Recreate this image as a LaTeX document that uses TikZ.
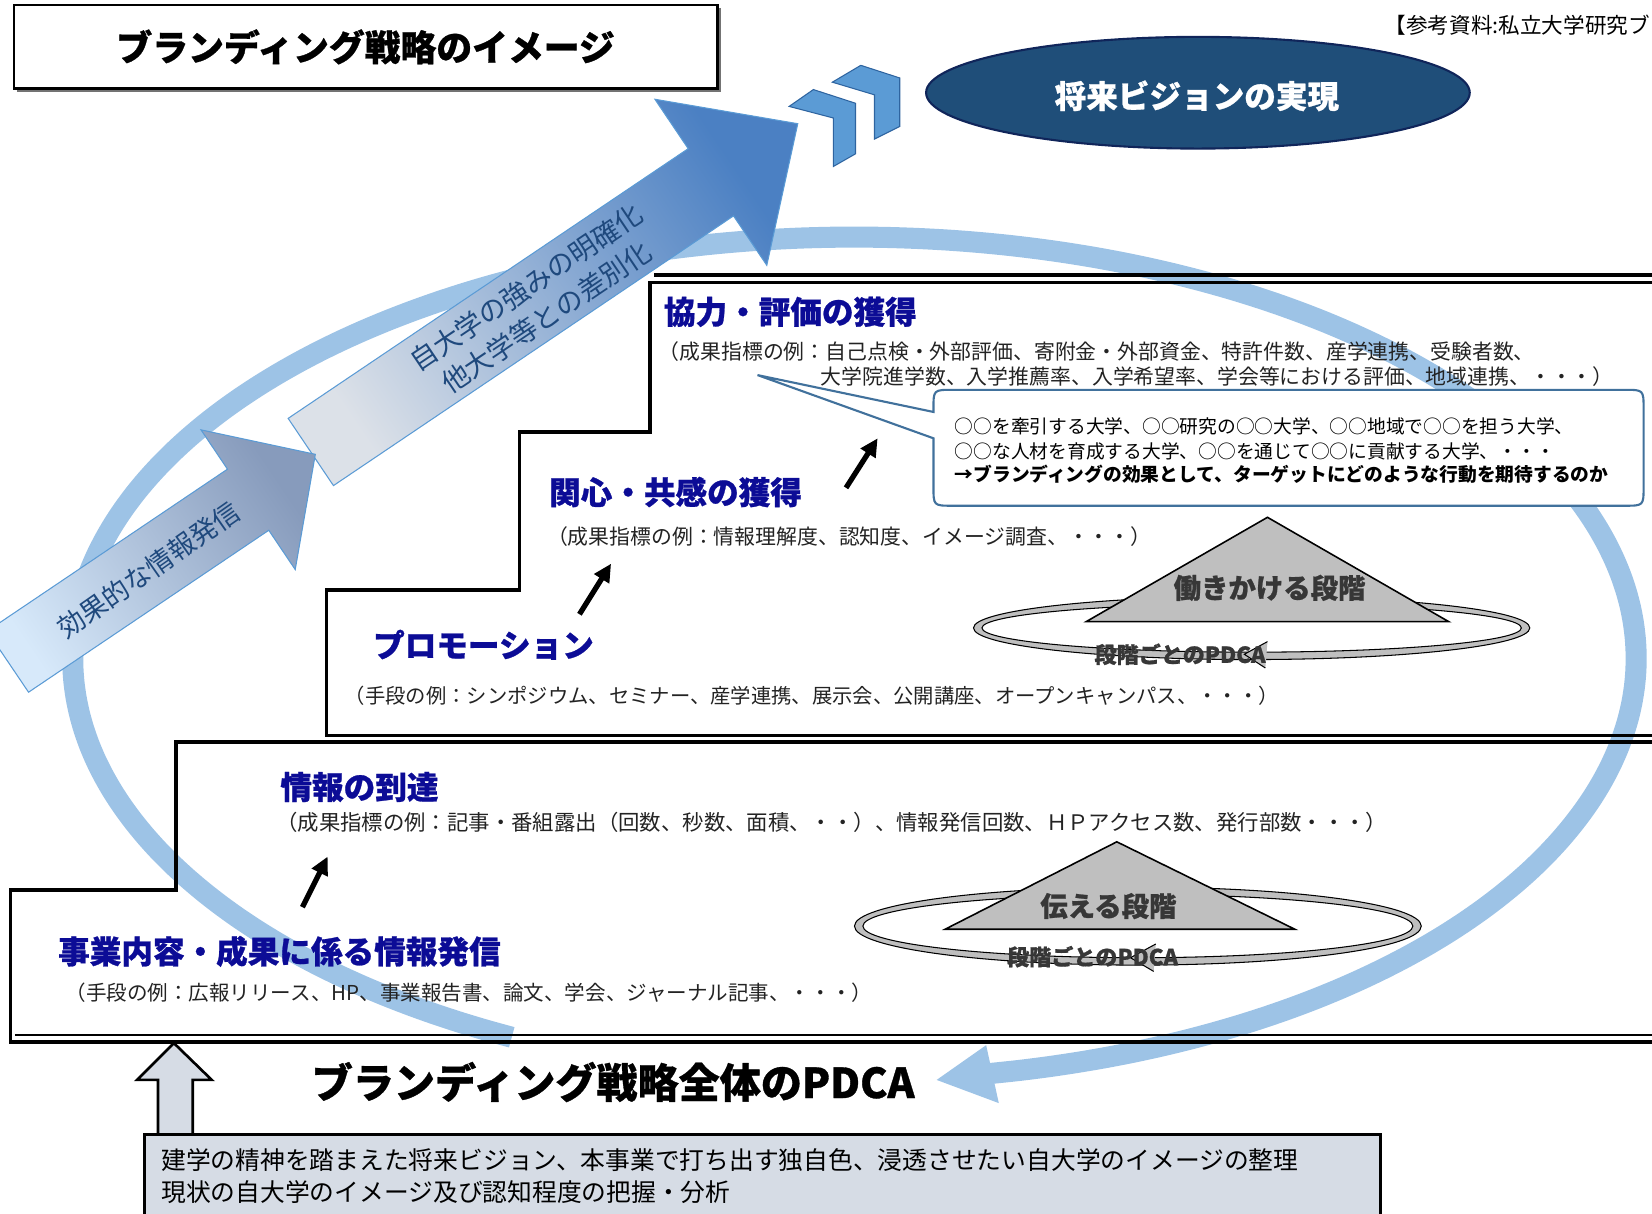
\documentclass[tikz,border=0pt]{standalone}
\usepackage{fontspec}
\setmainfont{Noto Sans CJK JP}
\newfontfamily\heavyfont{Noto Sans CJK JP}[BoldFeatures={FakeBold=0.8}]
\usetikzlibrary{arrows.meta}
\definecolor{ringblue}{RGB}{157,195,230}
\definecolor{navyhead}{RGB}{12,12,150}
\definecolor{ellfill}{RGB}{31,78,121}
\definecolor{elldraw}{RGB}{16,37,90}
\definecolor{chevfill}{RGB}{91,155,213}
\definecolor{chevdraw}{RGB}{46,100,160}
\definecolor{boxgray}{RGB}{214,220,229}
\definecolor{trigray}{RGB}{191,191,191}
\definecolor{stagetext}{RGB}{55,55,55}
\definecolor{bodytext}{RGB}{35,35,35}
\definecolor{callblue}{RGB}{65,113,156}
\definecolor{arrowtext}{RGB}{31,73,125}
\definecolor{arrowedge}{RGB}{91,155,213}
\definecolor{arrAtail}{RGB}{215,233,250}
\definecolor{arrAhead}{RGB}{135,155,188}
\definecolor{arrBtail}{RGB}{220,225,232}
\definecolor{arrBhead}{RGB}{75,128,195}
\begin{document}
\begin{tikzpicture}[x=1pt,y=-1pt,
  heading/.style={inner sep=0pt, anchor=west, text=navyhead, font=\heavyfont\bfseries\fontsize{30}{36}\selectfont},
  body/.style={inner sep=0pt, anchor=west, text=bodytext, font=\fontsize{19.8}{23}\selectfont},
  stepline/.style={line width=3.5pt, line join=miter, line cap=rect},
  stagelabel/.style={inner sep=0pt, text=stagetext, font=\heavyfont\bfseries\fontsize{26}{30}\selectfont},
  pdcalabel/.style={inner sep=0pt, text=stagetext, font=\heavyfont\bfseries\fontsize{21}{25}\selectfont},
  tri/.style={fill=trigray, draw=black, line width=1.5pt, line join=miter},
  pdcaring/.style={fill=trigray, draw=black, line width=1pt, even odd rule},
  smallarrow/.style={line width=5pt, -{Triangle[length=17pt,width=16pt]}},
  chevron/.style={fill=chevfill, draw=chevdraw, line width=1pt, line join=miter},
  bigarrow/.style={draw=arrowedge, line width=1pt, line join=miter},
  arrowlabel/.style={inner sep=0pt, text=arrowtext, align=center},
  callouttext/.style={inner sep=0pt, anchor=west, text=black, font=\fontsize{17.8}{21}\selectfont}
]
\useasboundingbox (0,0) rectangle (1568,1152);
\clip (0,0) rectangle (1568,1152);

% big PDCA ring
\draw[ringblue, line width=20pt] plot[smooth, domain=116:440, samples=150] ({811+742*cos(\x)},{625+400*sin(\x)});
\fill[ringblue] (936,992) -- (889,1025) -- (948,1047) -- cycle;

% step outlines
\draw[stepline] (1580,268) -- (617,268) -- (617,410) -- (493,410) -- (493,560) -- (310,560) -- (310,698) -- (1580,698);
\draw[line width=3pt] (621,261) -- (1580,261);
\draw[stepline] (1580,704) -- (167,704) -- (167,845) -- (10,845) -- (10,989) -- (1580,989);
\draw[line width=2pt] (14,982) -- (1580,982);

% stage PDCA rings and triangles
\path[pdcaring] (1188,596) ellipse [x radius=264, y radius=30] (1188,596) ellipse [x radius=256, y radius=23];
\filldraw[fill=trigray, draw=black, line width=1pt] (1203,609) -- (1181,621) -- (1201,634);
\draw[tri] (1203,491) -- (1375,590) -- (1031,590) -- cycle;
\node[stagelabel] (act) at (1205,558) {働きかける段階};
\node[pdcalabel] (pdca1) at (1120,621) {段階ごとのPDCA};

\path[pdcaring] (1080,879) ellipse [x radius=269, y radius=37] (1080,879) ellipse [x radius=261, y radius=30];
\filldraw[fill=trigray, draw=black, line width=1pt] (1097,896) -- (1073,909) -- (1095,922);
\draw[tri] (1060,799) -- (1229,882) -- (897,882) -- cycle;
\node[stagelabel] (tell) at (1052,860) {伝える段階};
\node[pdcalabel] (pdca2) at (1037,908) {段階ごとのPDCA};

% headings and examples
\node[heading] (h1) at (630,296) {協力・評価の獲得};
\node[body] (t1a) at (625,334) {（成果指標の例：自己点検・外部評価、寄附金・外部資金、特許件数、産学連携、受験者数、};
\node[body] (t1b) at (779,357) {大学院進学数、入学推薦率、入学希望率、学会等における評価、地域連携、・・・）};
\node[heading] (h2) at (521,467) {関心・共感の獲得};
\node[body] (t2) at (519,509) {（成果指標の例：情報理解度、認知度、イメージ調査、・・・）};
\node[heading] (h3) at (354,612) {プロモーション};
\node[body, font=\fontsize{19.3}{23}\selectfont] (t3) at (327,660) {（手段の例：シンポジウム、セミナー、産学連携、展示会、公開講座、オープンキャンパス、・・・）};
\node[heading] (h4) at (266,747) {情報の到達};
\node[body, font=\fontsize{20.3}{24}\selectfont] (t4) at (262,781) {（成果指標の例：記事・番組露出（回数、秒数、面積、・・）、情報発信回数、ＨＰアクセス数、発行部数・・・）};
\node[heading] (h5) at (55,903) {事業内容・成果に係る情報発信};
\node[body, font=\fontsize{19.5}{23}\selectfont] (t5) at (62,942) {（手段の例：広報リリース、HP、事業報告書、論文、学会、ジャーナル記事、・・・）};

% callout
\filldraw[fill=white, draw=callblue, line width=2pt, line join=miter]
  (904,370) .. controls (886,370) .. (886,388) -- (886,391) -- (719,356) -- (886,416) -- (886,462)
  .. controls (886,480) .. (904,480) -- (1542,480) .. controls (1560,480) .. (1560,462)
  -- (1560,388) .. controls (1560,370) .. (1542,370) -- cycle;
\node[callouttext] (c1) at (906,405) {○○を牽引する大学、○○研究の○○大学、○○地域で○○を担う大学、};
\node[callouttext] (c2) at (906,428) {○○な人材を育成する大学、○○を通じて○○に貢献する大学、・・・};
\node[callouttext, font=\bfseries\fontsize{17.8}{21}\selectfont] (c3) at (906,450) {→ブランディングの効果として、ターゲットにどのような行動を期待するのか};

% small arrows
\coordinate (a1s) at (803,463); \coordinate (a1e) at (833,416);
\coordinate (a2s) at (550,583); \coordinate (a2e) at (580,535);
\coordinate (a3s) at (287,861); \coordinate (a3e) at (311,813);
\draw[smallarrow] (a1s) -- (a1e);
\draw[smallarrow] (a2s) -- (a2e);
\draw[smallarrow] (a3s) -- (a3e);

% big rising arrows
\shadedraw[bigarrow, left color=arrBtail, right color=arrBhead, shading angle=124]
  (273.5,397.1) -- (653.2,141.1) -- (621.6,94.2) -- (757.2,117.4) -- (727.8,251.8) -- (696.2,204.9) -- (316.5,460.9) -- cycle;
\node[arrowlabel, rotate=34, font=\fontsize{26}{34}\selectfont] (tup) at (509,287) {自大学の強みの明確化\\他大学等との差別化};
\shadedraw[bigarrow, left color=arrAtail, right color=arrAhead, shading angle=124]
  (-12.1,599) -- (215.9,445.3) -- (190.8,408) -- (299.3,431.2) -- (280.2,540.6) -- (255.1,503.3) -- (27.1,657) -- cycle;
\node[arrowlabel, rotate=35, font=\fontsize{25.5}{30}\selectfont] (tlow) at (141,541) {効果的な情報発信};

% chevrons
\draw[chevron] (790,78) -- (817,62) -- (854,74) -- (854,120) -- (830,132) -- (830,90) -- cycle;
\draw[chevron] (749,101) -- (772,85) -- (812,98) -- (812,146) -- (791,158) -- (791,112) -- cycle;

% vision ellipse
\filldraw[fill=ellfill, draw=elldraw, line width=2pt] (1137,88) ellipse [x radius=258, y radius=53];
\node[inner sep=0pt, text=white, font=\heavyfont\bfseries\fontsize{30}{36}\selectfont] (vision) at (1136,91) {将来ビジョンの実現};

% title
\draw[black!55, line width=2pt] (16,86) -- (683,86) -- (683,8);
\node[draw=black, fill=white, line width=2pt, minimum width=668pt, minimum height=79pt, inner sep=0pt, font=\heavyfont\bfseries\fontsize{34}{40}\selectfont] (title) at (347,44.5) {ブランディング戦略のイメージ};
\node[inner sep=0pt, anchor=west, font=\fontsize{20.5}{24}\selectfont] (ref) at (1314,24) {【参考資料:私立大学研究ブ};

% overall PDCA label
\node[inner sep=0pt, font=\heavyfont\bfseries\fontsize{39}{46}\selectfont] (pdcaall) at (582,1027) {ブランディング戦略全体のPDCA};

% base box and hollow arrow
\filldraw[fill=boxgray, draw=black, line width=2.5pt, line join=miter] (150,1077) -- (150,1025) -- (130,1025) -- (165,990) -- (201,1025) -- (183,1025) -- (183,1077);
\filldraw[fill=boxgray, draw=black, line width=2.5pt] (137,1077) rectangle (1310,1190);
\node[inner sep=0pt, anchor=west, font=\fontsize{23.5}{28}\selectfont] (b1) at (153,1101) {建学の精神を踏まえた将来ビジョン、本事業で打ち出す独自色、浸透させたい自大学のイメージの整理};
\node[inner sep=0pt, anchor=west, font=\fontsize{23.5}{28}\selectfont] (b2) at (153,1131) {現状の自大学のイメージ及び認知程度の把握・分析};
\end{tikzpicture}
\end{document}
